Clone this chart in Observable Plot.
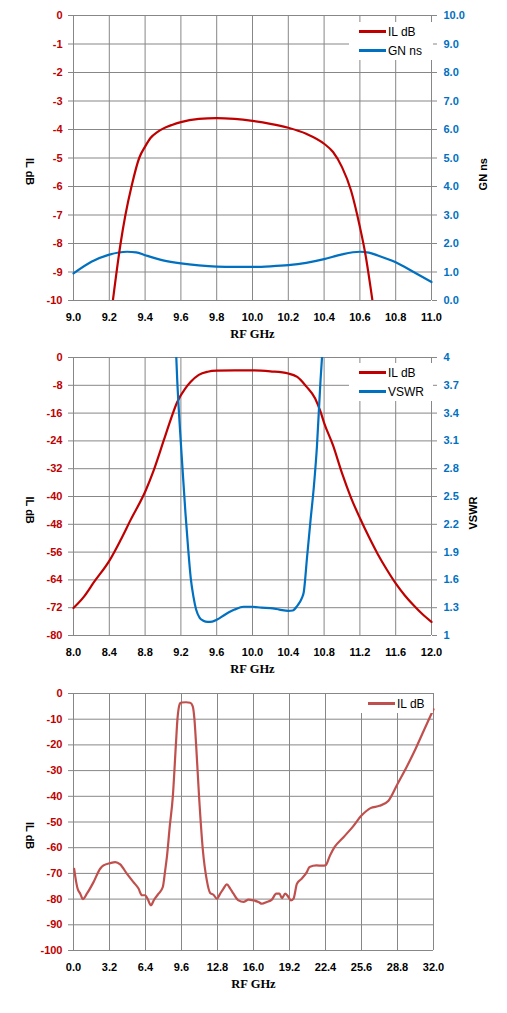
<!DOCTYPE html>
<html>
<head>
<meta charset="utf-8">
<script src="https://cdn.jsdelivr.net/npm/d3@7"></script>
<script src="https://cdn.jsdelivr.net/npm/@observablehq/plot@0.6"></script>
<style>
  html, body { margin: 0; padding: 0; background: #fff; }
  .panel { position: relative; width: 507px; }
  .legend { position: absolute; background: #fff; font-family: "Liberation Sans", Arial, sans-serif; font-size: 12px; color: #000; }
  .legend .item { display: flex; align-items: center; height: 19px; }
  .legend .sw { width: 27px; height: 3px; margin-right: 2px; }
</style>
</head>
<body>
<div id="root"></div>
<script>
// ---------- Panel 1: IL dB & group delay (GN ns), 9–11 GHz ----------
const p1IlFreq = [9.22, 9.263, 9.29, 9.324, 9.367, 9.40, 9.43, 9.47, 9.5, 9.55, 9.6, 9.7, 9.8, 9.9, 10.0, 10.1, 10.2, 10.3, 10.4, 10.45, 10.5, 10.55, 10.6, 10.63, 10.67];
const p1Il     = [-10, -8.0, -7.0, -6.0, -5.0, -4.6, -4.3, -4.08, -3.97, -3.84, -3.74, -3.63, -3.60, -3.63, -3.70, -3.80, -3.94, -4.15, -4.50, -4.79, -5.32, -6.13, -7.42, -8.35, -10];
const p1GnFreq = [9.0, 9.1, 9.2, 9.3, 9.35, 9.4, 9.5, 9.6, 9.7, 9.8, 9.9, 10.0, 10.1, 10.2, 10.3, 10.4, 10.5, 10.6, 10.65, 10.7, 10.8, 10.9, 11.0];
const p1Gn     = [0.95, 1.36, 1.61, 1.71, 1.69, 1.59, 1.41, 1.30, 1.23, 1.19, 1.18, 1.18, 1.20, 1.24, 1.32, 1.45, 1.62, 1.71, 1.68, 1.58, 1.34, 1.00, 0.65];
const p1XTicks = [9.0, 9.2, 9.4, 9.6, 9.8, 10.0, 10.2, 10.4, 10.6, 10.8, 11.0];
const p1YTicks = [0, -1, -2, -3, -4, -5, -6, -7, -8, -9, -10];
const p1GnTicks = [0, 1, 2, 3, 4, 5, 6, 7, 8, 9, 10];

// ---------- Panel 2: IL dB & VSWR, 8–12 GHz ----------
const p2IlFreq = [8.0, 8.115, 8.23, 8.405, 8.525, 8.637, 8.808, 8.897, 9.009, 9.084, 9.159, 9.25, 9.31, 9.4, 9.5, 9.6, 9.8, 10.0, 10.2, 10.4, 10.5, 10.6, 10.7, 10.76, 10.8, 10.9, 11.0, 11.1, 11.2, 11.3, 11.4, 11.5, 11.6, 11.7, 11.8, 11.9, 12.0];
const p2Il     = [-72.1, -68.9, -64.6, -58.3, -52.6, -46.8, -38.2, -32.4, -23.8, -18.0, -12.8, -8.9, -7.0, -5.0, -4.1, -3.8, -3.7, -3.7, -4.0, -4.6, -5.6, -8.3, -11.8, -15.6, -18.8, -25.3, -33.3, -40.3, -46.2, -51.6, -56.6, -61.0, -65.0, -68.4, -71.3, -73.9, -76.1];
const p2VsFreq = [9.14, 9.159, 9.185, 9.214, 9.251, 9.28, 9.31, 9.34, 9.37, 9.41, 9.45, 9.5, 9.55, 9.6, 9.7, 9.8, 9.9, 10.0, 10.1, 10.2, 10.3, 10.4, 10.45, 10.5, 10.55, 10.573, 10.61, 10.648, 10.685, 10.72, 10.76, 10.78, 10.8];
const p2Vswr   = [4.2, 3.755, 3.3, 2.86, 2.32, 1.95, 1.62, 1.42, 1.28, 1.19, 1.16, 1.147, 1.15, 1.17, 1.23, 1.28, 1.31, 1.31, 1.30, 1.295, 1.28, 1.266, 1.27, 1.32, 1.40, 1.47, 1.85, 2.24, 2.60, 3.04, 3.755, 4.05, 4.3];
const p2XTicks = [8.0, 8.4, 8.8, 9.2, 9.6, 10.0, 10.4, 10.8, 11.2, 11.6, 12.0];
const p2YTicks = [0, -8, -16, -24, -32, -40, -48, -56, -64, -72, -80];
const p2VsTicks = [4, 3.7, 3.4, 3.1, 2.8, 2.5, 2.2, 1.9, 1.6, 1.3, 1];

// ---------- Panel 3: wideband IL dB, 0–32 GHz ----------
const p3Freq = [0.06, 0.24, 0.36, 0.6, 0.83, 1.19, 1.78, 2.37, 2.67, 3.26, 3.71, 4.15, 4.74, 5.33, 5.78, 6.08, 6.37, 6.58, 6.88, 7.17, 7.56, 7.94, 8.15, 8.3, 8.55, 8.83, 9.1, 9.24, 9.38, 9.5, 9.63, 10.0, 10.37, 10.6, 10.75, 10.9, 11.16, 11.5, 11.85, 12.15, 12.44, 12.74, 13.04, 13.33, 13.63, 13.93, 14.22, 14.67, 15.11, 15.56, 16.0, 16.44, 16.74, 17.19, 17.63, 18.02, 18.31, 18.52, 18.82, 19.11, 19.32, 19.56, 19.86, 20.3, 20.74, 20.98, 21.6, 22.1, 22.4, 22.8, 23.2, 24.0, 24.8, 25.6, 26.4, 27.2, 28.0, 28.8, 29.6, 30.4, 31.2, 32.0];
const p3Il   = [-68.2, -73.4, -75.9, -77.9, -80.0, -77.9, -73.4, -68.2, -66.9, -66.0, -65.6, -66.5, -70.1, -73.4, -75.9, -78.5, -78.5, -79.8, -82.4, -80.2, -77.9, -75.3, -68.8, -63.7, -52, -40, -20, -10, -5, -3.7, -3.5, -3.4, -3.6, -5, -10, -20, -40, -61, -72.7, -77.6, -78.3, -79.8, -77.9, -75.9, -74.3, -75.9, -77.9, -80.5, -81.1, -80.2, -80.5, -81.1, -81.8, -81.1, -80.2, -77.9, -77.9, -79.6, -77.9, -79.2, -80.5, -79.8, -74.0, -72.0, -69.5, -67.5, -66.9, -67.0, -66.9, -63.0, -59.8, -55.9, -52.0, -47.5, -44.6, -43.7, -41.7, -35.2, -28.7, -21.6, -13.8, -6.1];
const p3XTicks = [0, 3.2, 6.4, 9.6, 12.8, 16.0, 19.2, 22.4, 25.6, 28.8, 32.0];
const p3YTicks = [0, -10, -20, -30, -40, -50, -60, -70, -80, -90, -100];

const RED = "#C00000", BLUE = "#0070C0", RED3 = "#C0504D", GRID = "#878787";
const baseStyle = {fontFamily: "'Liberation Sans', Arial, sans-serif", fontSize: "11px", fontWeight: "bold", background: "transparent", overflow: "visible"};

function zip(xs, ys) { return xs.map((x, i) => ({x, y: ys[i]})); }

function frameMarks(xTicks, yTicks) {
  return [
    Plot.gridY(yTicks, {stroke: GRID, strokeOpacity: 1, strokeWidth: 1}),
    Plot.gridX(xTicks, {stroke: GRID, strokeOpacity: 1, strokeWidth: 1}),
    Plot.axisY(yTicks, {anchor: "left", tickSize: 5, tickPadding: 6, stroke: GRID, fill: RED, tickFormat: d => String(d), label: null}),
    Plot.axisX(xTicks, {anchor: "bottom", tickSize: 0, tickPadding: 13, fill: "#000", tickFormat: d => d.toFixed(1), label: null})
  ];
}

function titles(rightLabel, rightDx) {
  const m = [
    Plot.text(["RF GHz"], {frameAnchor: "bottom", dy: 37, fontFamily: "'Liberation Serif', 'Times New Roman', serif", fontSize: 12.5, fontWeight: "bold", fill: "#000"}),
    Plot.text(["IL dB"], {frameAnchor: "left", dx: -44, rotate: 90, fontSize: 11, fontWeight: "bold", fill: "#000"})
  ];
  if (rightLabel) m.push(Plot.text([rightLabel], {frameAnchor: "right", dx: rightDx, rotate: -90, fontSize: 11, fontWeight: "bold", fill: "#000"}));
  return m;
}

function legend(panel, left, top, w, items) {
  const div = document.createElement("div");
  div.className = "legend";
  Object.assign(div.style, {left: left + "px", top: top + "px", width: w + "px", padding: "0 0 0 10px", boxSizing: "border-box"});
  for (const [label, color] of items) {
    const it = document.createElement("div");
    it.className = "item";
    const sw = document.createElement("div");
    sw.className = "sw";
    sw.style.background = color;
    const t = document.createElement("span");
    t.textContent = label;
    it.append(sw, t);
    div.append(it);
  }
  panel.append(div);
}

const root = document.getElementById("root");

// Panel 1
{
  const panel = document.createElement("div");
  panel.className = "panel";
  const chart = Plot.plot({
    width: 507, height: 340,
    marginLeft: 73, marginRight: 76, marginTop: 15, marginBottom: 40,
    style: baseStyle,
    x: {domain: [9, 11]},
    y: {domain: [-10, 0]},
    marks: [
      ...frameMarks(p1XTicks, p1YTicks),
      Plot.axisY(p1GnTicks.map(v => v - 10), {anchor: "right", tickSize: 5, tickPadding: 7, stroke: GRID, fill: BLUE, tickFormat: d => (d + 10).toFixed(1), label: null}),
      Plot.line(zip(p1GnFreq, p1Gn), {x: "x", y: d => d.y - 10, stroke: BLUE, strokeWidth: 2.2, curve: "monotone-x"}),
      Plot.line(zip(p1IlFreq, p1Il), {x: "x", y: "y", stroke: RED, strokeWidth: 2.2, curve: "monotone-x", clip: true}),
      ...titles("GN ns", 52)
    ]
  });
  panel.append(chart);
  legend(panel, 349, 22, 84, [["IL dB", RED], ["GN ns", BLUE]]);
  root.append(panel);
}

// Panel 2
{
  const panel = document.createElement("div");
  panel.className = "panel";
  const toY = v => (v - 1) / 3 * 80 - 80;
  const chart = Plot.plot({
    width: 507, height: 340,
    marginLeft: 73, marginRight: 76, marginTop: 17, marginBottom: 45,
    style: baseStyle,
    x: {domain: [8, 12]},
    y: {domain: [-80, 0]},
    marks: [
      ...frameMarks(p2XTicks, p2YTicks),
      Plot.axisY(p2VsTicks.map(toY), {anchor: "right", tickSize: 5, tickPadding: 7, stroke: GRID, fill: BLUE, tickFormat: d => String(+((d + 80) * 3 / 80 + 1).toFixed(1)), label: null}),
      Plot.line(zip(p2IlFreq, p2Il), {x: "x", y: "y", stroke: RED, strokeWidth: 2.2, curve: "monotone-x"}),
      Plot.line(zip(p2VsFreq, p2Vswr), {x: "x", y: d => toY(d.y), stroke: BLUE, strokeWidth: 2.2, curve: "monotone-x", clip: true}),
      ...titles("VSWR", 42)
    ]
  });
  panel.append(chart);
  legend(panel, 349, 23, 84, [["IL dB", RED], ["VSWR", BLUE]]);
  root.append(panel);
}

// Panel 3
{
  const panel = document.createElement("div");
  panel.className = "panel";
  const chart = Plot.plot({
    width: 507, height: 333,
    marginLeft: 73, marginRight: 74, marginTop: 13, marginBottom: 63,
    style: baseStyle,
    x: {domain: [0, 32]},
    y: {domain: [-100, 0]},
    marks: [
      ...frameMarks(p3XTicks, p3YTicks),
      Plot.line(zip(p3Freq, p3Il), {x: "x", y: "y", stroke: RED3, strokeWidth: 2.2, curve: "monotone-x"}),
      ...titles(null, 0)
    ]
  });
  panel.append(chart);
  legend(panel, 358, 14, 75, [["IL dB", RED3]]);
  root.append(panel);
}
</script>
</body>
</html>
